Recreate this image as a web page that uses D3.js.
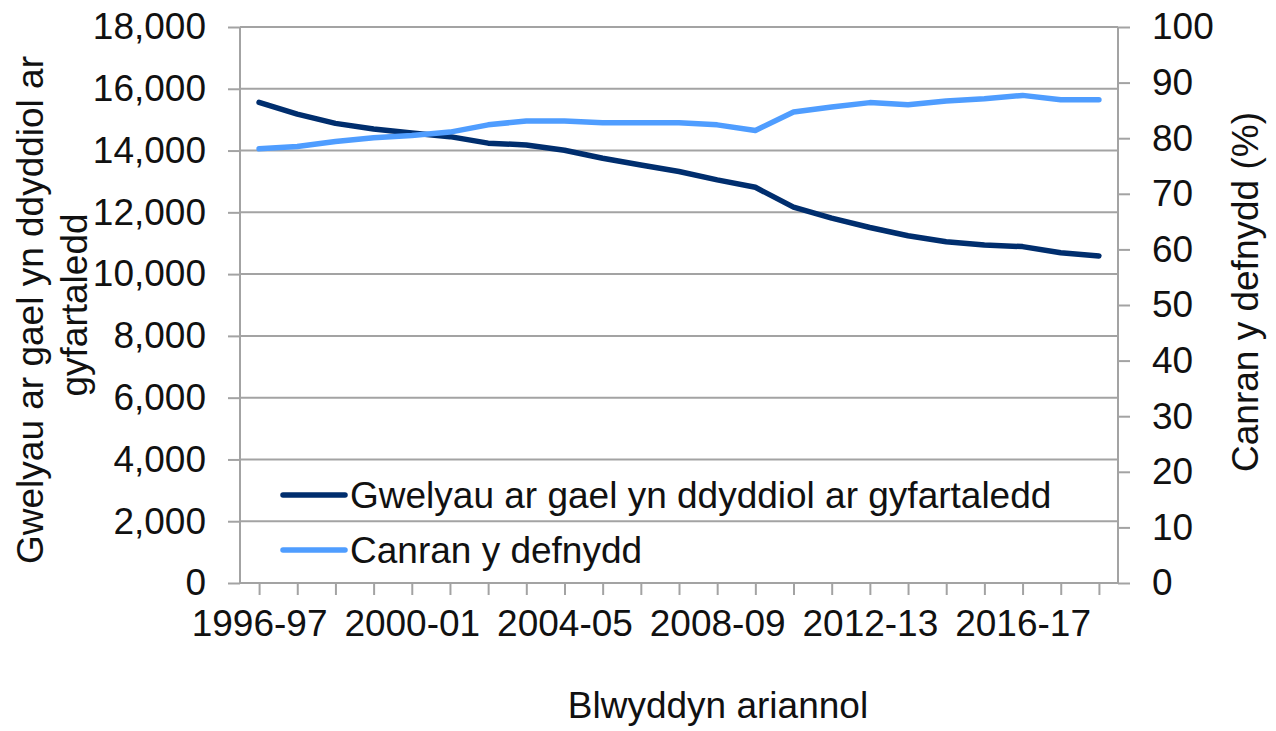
<!DOCTYPE html>
<html>
<head>
<meta charset="utf-8">
<script src="https://cdn.jsdelivr.net/npm/d3@7"></script>
<style>
  html, body { margin: 0; padding: 0; background: #fff; }
  svg text { font-family: "Liberation Sans", Arial, sans-serif; fill: #111; }
</style>
</head>
<body>
<svg id="chart" width="1276" height="731"></svg>
<script>
const years = ["1996-97","1997-98","1998-99","1999-00","2000-01","2001-02","2002-03","2003-04","2004-05","2005-06","2006-07","2007-08","2008-09","2009-10","2010-11","2011-12","2012-13","2013-14","2014-15","2015-16","2016-17","2017-18","2018-19"];
const beds = [15560, 15180, 14880, 14700, 14570, 14450, 14240, 14180, 14010, 13750, 13530, 13320, 13050, 12810, 12170, 11810, 11510, 11240, 11050, 10940, 10890, 10690, 10590];
const occupancy = [78.1, 78.5, 79.4, 80.1, 80.5, 81.1, 82.4, 83.1, 83.1, 82.8, 82.8, 82.8, 82.4, 81.4, 84.7, 85.6, 86.4, 86.0, 86.7, 87.1, 87.7, 86.9, 86.9];
const leftTicks = [0, 2000, 4000, 6000, 8000, 10000, 12000, 14000, 16000, 18000];
const rightTicks = [0, 10, 20, 30, 40, 50, 60, 70, 80, 90, 100];
const labelledYears = ["1996-97","2000-01","2004-05","2008-09","2012-13","2016-17"];
const seriesNames = ["Gwelyau ar gael yn ddyddiol ar gyfartaledd", "Canran y defnydd"];
const leftTitle = ["Gwelyau ar gael yn ddyddiol ar", "gyfartaledd"];
const rightTitle = "Canran y defnydd (%)";
const xTitle = "Blwyddyn ariannol";

const colDark = "#002e6e", colLight = "#4f9dff", gridCol = "#a3a3a3", fs = 37;
const L = 240, R = 1118, T = 27, B = 583;
const svg = d3.select("#chart");

const x = d3.scalePoint().domain(years).range([L, R]).padding(0.5);
const yL = d3.scaleLinear().domain([0, 18000]).range([B, T]);
const yR = d3.scaleLinear().domain([0, 100]).range([B, T]);

// gridlines
svg.append("g").selectAll("line").data(leftTicks.filter(d => d > 0)).join("line")
  .attr("x1", L).attr("x2", R).attr("y1", d => yL(d)).attr("y2", d => yL(d))
  .attr("stroke", gridCol).attr("stroke-width", 2);

function styleAxis(g) {
  g.selectAll(".domain").attr("stroke", gridCol).attr("stroke-width", 2);
  g.selectAll(".tick line").attr("stroke", gridCol).attr("stroke-width", 2);
  g.selectAll("text").attr("font-size", fs).attr("fill", "#111")
    .style("font-family", '"Liberation Sans", Arial, sans-serif');
}

// left axis
const gL = svg.append("g").attr("transform", `translate(${L},0)`)
  .call(d3.axisLeft(yL).tickValues(leftTicks).tickSize(12).tickSizeOuter(0).tickPadding(22).tickFormat(d3.format(",")));
styleAxis(gL);
gL.selectAll(".domain").remove();
gL.append("line").attr("x1", 0).attr("x2", 0).attr("y1", T).attr("y2", B).attr("stroke", gridCol).attr("stroke-width", 2);

// right axis
const gR = svg.append("g").attr("transform", `translate(${R},0)`)
  .call(d3.axisRight(yR).tickValues(rightTicks).tickSize(12).tickSizeOuter(0).tickPadding(22));
styleAxis(gR);
gR.selectAll(".domain").remove();
gR.append("line").attr("x1", 0).attr("x2", 0).attr("y1", T).attr("y2", B).attr("stroke", gridCol).attr("stroke-width", 2);

// bottom axis
const gX = svg.append("g").attr("transform", `translate(0,${B})`)
  .call(d3.axisBottom(x).tickSize(12).tickSizeOuter(0).tickPadding(15)
    .tickFormat(d => labelledYears.includes(d) ? d : ""));
styleAxis(gX);
gX.selectAll(".domain").remove();
gX.append("line").attr("x1", L).attr("x2", R).attr("y1", 0).attr("y2", 0).attr("stroke", gridCol).attr("stroke-width", 2);

// lines
const lineL = d3.line().x((d, i) => x(years[i])).y(d => yL(d));
const lineR = d3.line().x((d, i) => x(years[i])).y(d => yR(d));
svg.append("path").datum(beds).attr("d", lineL).attr("fill", "none")
  .attr("stroke", colDark).attr("stroke-width", 5.5).attr("stroke-linejoin", "round").attr("stroke-linecap", "round");
svg.append("path").datum(occupancy).attr("d", lineR).attr("fill", "none")
  .attr("stroke", colLight).attr("stroke-width", 5.5).attr("stroke-linejoin", "round").attr("stroke-linecap", "round");

// legend
const legY = [495, 550], legColors = [colDark, colLight];
const lg = svg.append("g");
seriesNames.forEach((name, i) => {
  lg.append("line").attr("x1", 283).attr("x2", 345).attr("y1", legY[i]).attr("y2", legY[i])
    .attr("stroke", legColors[i]).attr("stroke-width", 5.5).attr("stroke-linecap", "round");
  lg.append("text").attr("x", 350).attr("y", legY[i]).attr("dy", "0.35em")
    .attr("font-size", fs).text(name);
});

// titles
svg.append("text").attr("transform", "translate(30,310) rotate(-90)").attr("text-anchor", "middle")
  .attr("dy", "0.35em").attr("font-size", fs).text(leftTitle[0]);
svg.append("text").attr("transform", "translate(74,305) rotate(-90)").attr("text-anchor", "middle")
  .attr("dy", "0.35em").attr("font-size", fs).text(leftTitle[1]);
svg.append("text").attr("transform", "translate(1245,292) rotate(-90)").attr("text-anchor", "middle")
  .attr("dy", "0.35em").attr("font-size", fs).text(rightTitle);
svg.append("text").attr("x", 718).attr("y", 705).attr("text-anchor", "middle")
  .attr("dy", "0.35em").attr("font-size", fs).text(xTitle);
</script>
</body>
</html>
